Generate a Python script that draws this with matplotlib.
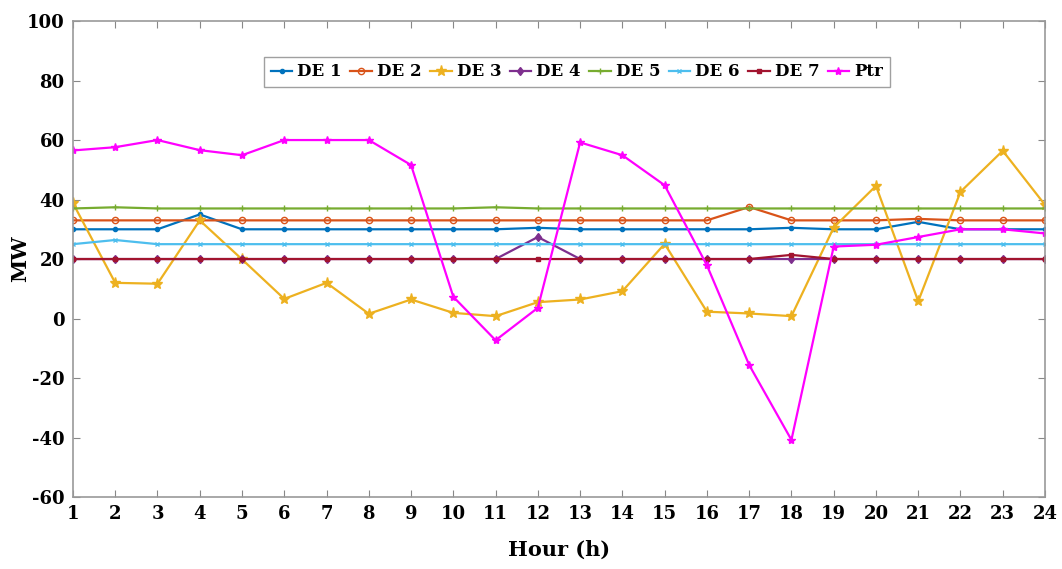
import matplotlib
matplotlib.use("Agg")
import matplotlib.pyplot as plt

plt.rcParams['font.family'] = ['DejaVu Serif']
plt.rcParams['font.weight'] = 'bold'
plt.rcParams['axes.unicode_minus'] = False

hours = list(range(1, 25))

de1 = [30, 30, 30, 35, 30, 30, 30, 30, 30, 30, 30, 30.5, 30, 30, 30, 30, 30, 30.5, 30, 30, 32.5, 30, 30, 30]
de2 = [33, 33, 33, 33, 33, 33, 33, 33, 33, 33, 33, 33, 33, 33, 33, 33, 37.5, 33, 33, 33, 33.5, 33, 33, 33]
de3 = [38.8, 12, 11.7, 33, 19.9, 6.6, 12, 1.6, 6.4, 1.9, 0.8, 5.5, 6.4, 9.2, 25.1, 2.3, 1.7, 0.8, 30.6, 44.6, 5.8, 42.6, 56.4, 38.2]
de4 = [20, 20, 20, 20, 20, 20, 20, 20, 20, 20, 20, 27.4, 20, 20, 20, 20, 20, 20, 20, 20, 20, 20, 20, 20]
de5 = [37, 37.4, 37, 37, 37, 37, 37, 37, 37, 37, 37.4, 37, 37, 37, 37, 37, 37, 37, 37, 37, 37, 37, 37, 37]
de6 = [25, 26.4, 25, 25, 25, 25, 25, 25, 25, 25, 25, 25, 25, 25, 25, 25, 25, 25, 25, 25, 25, 25, 25, 25]
de7 = [20, 20, 20, 20, 20, 20, 20, 20, 20, 20, 20, 20, 20, 20, 20, 20, 20, 21.4, 20, 20, 20, 20, 20, 20]
ptr = [56.5, 57.6, 60, 56.6, 54.9, 60, 60, 60, 51.6, 7.3, -7.3, 3.6, 59.2, 54.9, 44.8, 17.9, -15.6, -40.8, 24.2, 24.8, 27.4, 30, 30, 28.6]

series = [
    ("DE 1", de1, "#0072BD", "."),
    ("DE 2", de2, "#D95319", "o"),
    ("DE 3", de3, "#EDB120", "*"),
    ("DE 4", de4, "#7E2F8E", "d"),
    ("DE 5", de5, "#77AC30", "+"),
    ("DE 6", de6, "#4DBEEE", "x"),
    ("DE 7", de7, "#A2142F", "s"),
    ("Ptr", ptr, "#FF00FF", "*"),
]

fig = plt.figure(figsize=(10.62, 5.69), dpi=100)
ax = fig.add_axes([0.0687, 0.1265, 0.9153, 0.8365])

sizes = {".": 6, "o": 4.5, "*": 8, "d": 4.5, "+": 5, "x": 3.5, "s": 3.5}
for name, vals, col, mk in series:
    face = "none" if mk == "o" else col
    ms = 6 if name == "Ptr" else sizes[mk]
    ax.plot(hours, vals, color=col, marker=mk, markersize=ms,
            markerfacecolor=face, markeredgecolor=col, linewidth=1.6, label=name)

ax.set_xlim(1, 24)
ax.set_ylim(-60, 100)
ax.set_xticks(hours)
ax.set_yticks(range(-60, 101, 20))
ax.tick_params(direction='in', top=True, right=True, length=5, color='#888888',
               labelsize=13, pad=6)
for s in ax.spines.values():
    s.set_color('#999999')
    s.set_linewidth(1.2)

ax.set_xlabel("Hour (h)", fontsize=15, fontweight='bold', labelpad=12)
ax.set_ylabel("MW", fontsize=15, fontweight='bold', labelpad=-2)

leg = ax.legend(loc='center', bbox_to_anchor=(0.5185, 0.893), ncol=8,
                fontsize=12, frameon=True, fancybox=False, handlelength=1.3,
                handletextpad=0.3, columnspacing=0.5, borderpad=0.4)
leg.get_frame().set_edgecolor('#888888')
leg.get_frame().set_linewidth(1.0)

fig.savefig("out.png", dpi=100)
